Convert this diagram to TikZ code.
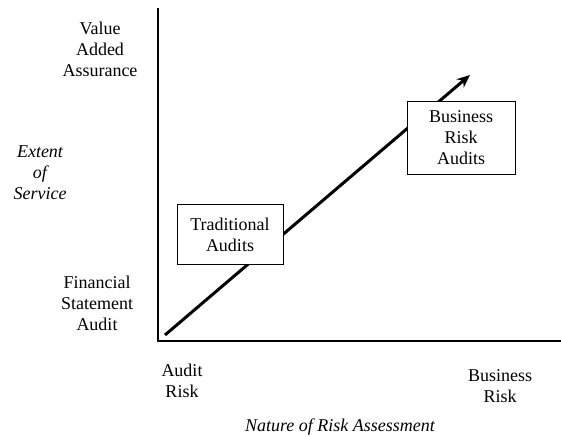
\documentclass[tikz,border=0pt]{standalone}
\usepackage{fontspec}
\setmainfont{Liberation Serif}
\usetikzlibrary{arrows.meta}

\begin{document}
\begin{tikzpicture}[x=1pt,y=1pt,
  % 文字标签和方框的style
  axis label/.style={align=center,font=\fontsize{18}{21}\selectfont},
  axis title/.style={align=center,font=\fontsize{18}{21}\selectfont\itshape},
  audit box/.style={draw,line width=1pt,fill=white,align=center,
    font=\fontsize{18}{21}\selectfont,inner sep=0pt}]

  \useasboundingbox (0,0) rectangle (561,436);

  % 坐标轴
  \coordinate (origin) at (158,95);
  \coordinate (ytop) at (158,428);
  \coordinate (xend) at (561,95);
  \draw[line width=1.3pt] (ytop) -- (origin) -- (xend);

  % 粗箭头,方框盖在它上面
  \coordinate (start) at (165,101);
  \coordinate (tip) at (470,361);
  \draw[line width=3pt,-{Stealth[length=13pt,width=11pt]}] (start) -- (tip);

  % 两个方框
  \node[audit box,minimum width=106pt,minimum height=60pt] (traditional)
    at (230,201) {Traditional\\Audits};
  \node[audit box,minimum width=108pt,minimum height=73pt] (business)
    at (461,298) {Business\\Risk\\Audits};

  % 纵轴的文字
  \node[axis label] (valueadded) at (100,387) {Value\\Added\\Assurance};
  \node[axis title] (extent) at (40,263) {Extent\\of\\Service};
  \node[axis label] (financial) at (97,133) {Financial\\Statement\\Audit};

  % 横轴的文字
  \node[axis label] (auditrisk) at (182,55) {Audit\\Risk};
  \node[axis label] (businessrisk) at (500,50) {Business\\Risk};
  \node[axis title] (nature) at (340,9) {Nature of Risk Assessment};

\end{tikzpicture}
\end{document}
